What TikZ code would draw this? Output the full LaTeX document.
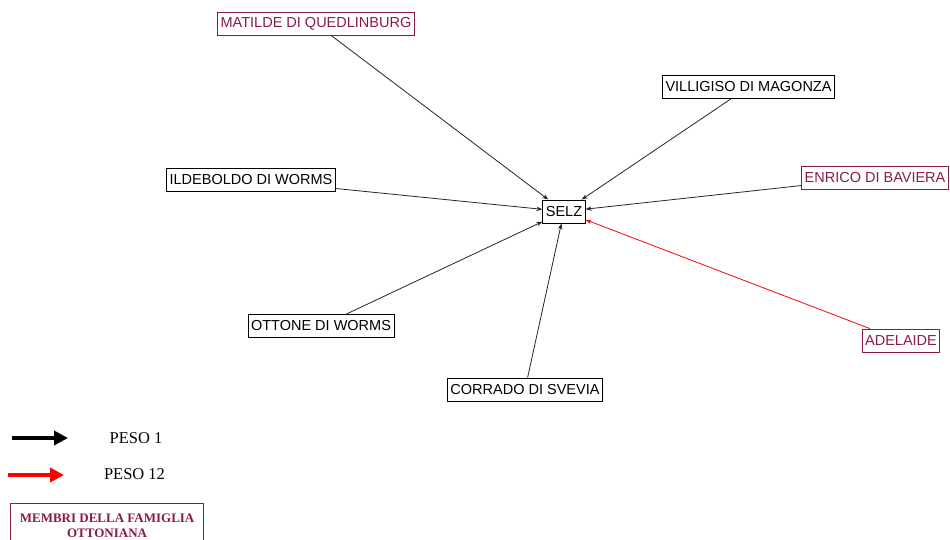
\documentclass[tikz,border=0pt]{standalone}
\usepackage{fontspec}
\setmainfont{Liberation Serif}
\newfontfamily\arialf{Liberation Sans}
\usetikzlibrary{arrows.meta}
\definecolor{famcol}{RGB}{139,26,76}
\begin{document}
\begin{tikzpicture}[x=1pt,y=-1pt,
  person/.style={draw=black,line width=0.9pt,fill=white,text=black,inner xsep=3pt,inner ysep=0pt,minimum height=23pt,font=\arialf\fontsize{14.5}{16}\selectfont},
  famnode/.style={person,draw=famcol,text=famcol},
  link/.style={draw=black!85,line width=0.8pt,-{Stealth[length=6pt,width=4.5pt]}},
  redlink/.style={link,draw=red,-{Stealth[length=6pt,width=4.5pt,red]}},
  legarrow/.style={line width=4pt,-{Triangle[length=14pt,width=14pt]}},
  legtext/.style={font=\fontsize{16.5}{18}\selectfont,text=black},
]
\useasboundingbox (0,0) rectangle (950,539);
\fill[white] (0,0) rectangle (950,539);

\node[famnode] (matilde) at (316,24) {MATILDE DI QUEDLINBURG};
\node[person] (villigiso) at (748.5,87) {VILLIGISO DI MAGONZA};
\node[person] (ildeboldo) at (251,180) {ILDEBOLDO DI WORMS};
\node[person] (selz) at (564,211.5) {SELZ};
\node[famnode] (enrico) at (875,177.5) {ENRICO DI BAVIERA};
\node[person] (ottone) at (321,326) {OTTONE DI WORMS};
\node[famnode] (adelaide) at (901,340.5) {ADELAIDE};
\node[person] (corrado) at (525,389.5) {CORRADO DI SVEVIA};

\draw[link] (matilde) -- (selz);
\draw[link] (villigiso) -- (selz);
\draw[link] (ildeboldo) -- (selz);
\draw[link] (enrico) -- (selz);
\draw[link] (ottone) -- (selz);
\draw[link] (corrado) -- (selz);
\draw[redlink] (adelaide) -- (selz);

% legend
\coordinate (b1) at (12,438);
\coordinate (b2) at (68,438);
\coordinate (r1) at (8,475);
\coordinate (r2) at (64,475);
\draw[legarrow,black] (b1) -- (b2);
\draw[legarrow,red] (r1) -- (r2);
\node[legtext] (peso1) at (136,438) {PESO 1};
\node[legtext] (peso12) at (134.5,474) {PESO 12};
\node[draw=famcol,line width=1.2pt,text=famcol,align=center,font=\bfseries\fontsize{13}{14.5}\selectfont,
  minimum width=193pt,minimum height=44pt,anchor=north west,inner ysep=6pt,text depth=0pt] (legfam) at (10,503)
  {MEMBRI DELLA FAMIGLIA\\OTTONIANA};
\end{tikzpicture}
\end{document}
